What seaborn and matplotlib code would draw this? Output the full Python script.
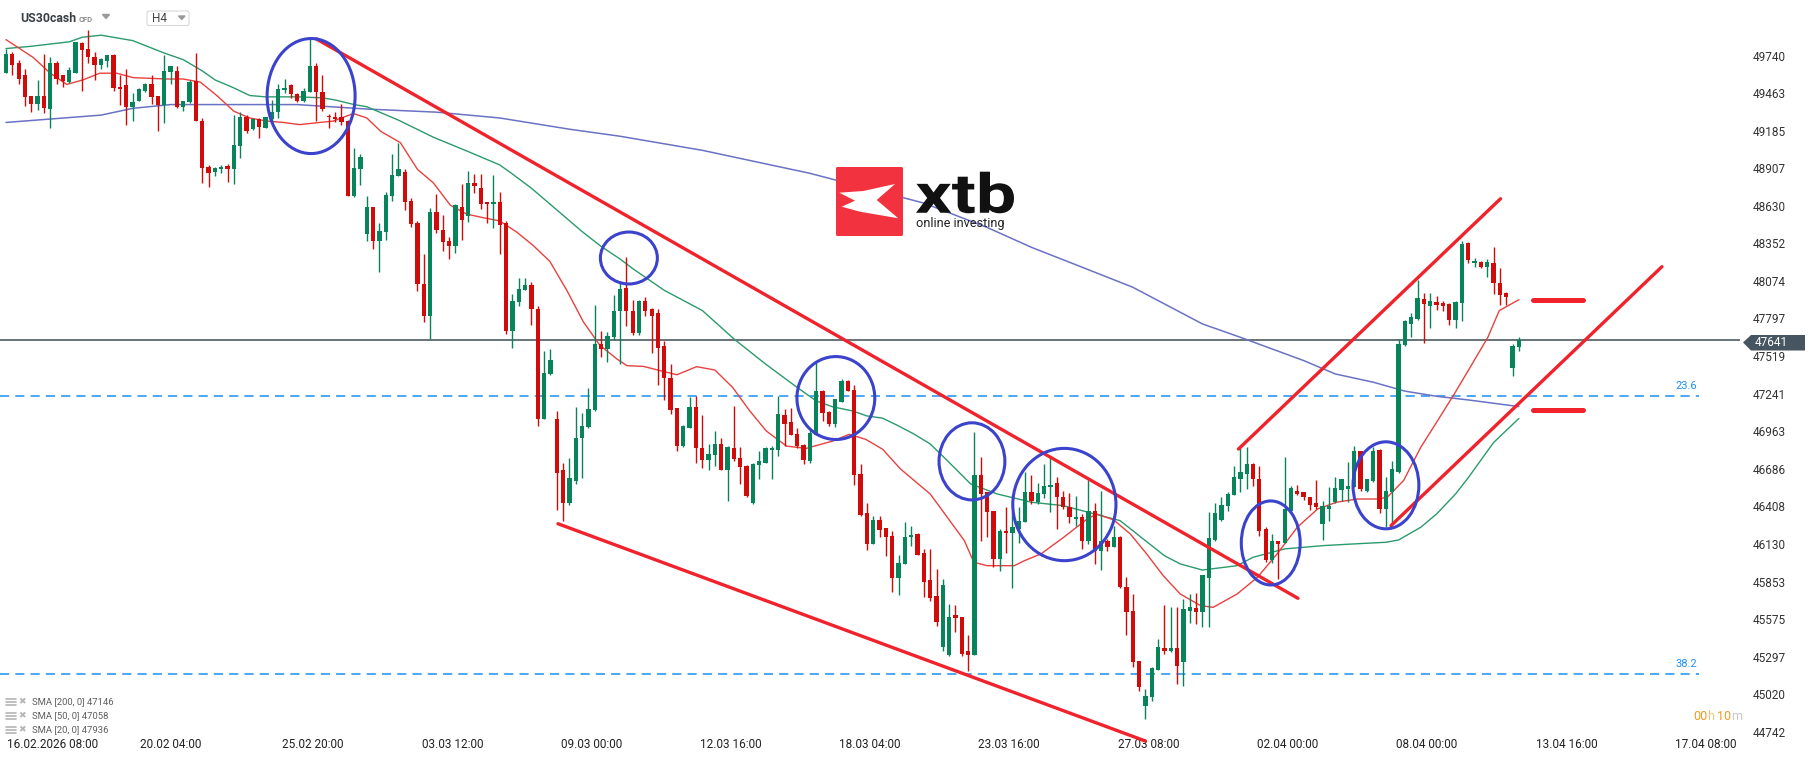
import numpy as np
import pandas as pd
import seaborn as sns
import matplotlib.pyplot as plt
from matplotlib.patches import Ellipse, Polygon, FancyBboxPatch
from matplotlib.textpath import TextPath
from matplotlib.font_manager import FontProperties
from matplotlib.patches import PathPatch
from matplotlib.transforms import Affine2D

# US30cash H4 candles (one entry per candle)
opens = [49610, 49749, 49687, 49594, 49445, 49385, 49445, 49346, 49686, 49594,
         49544, 49610, 49835, 49792, 49733, 49667, 49700, 49743, 49511, 49521,
         49362, 49405, 49478, 49527, 49441, 49375, 49620, 49627, 49362, 49395,
         49551, 49256, 48915, 48882, 48905, 48922, 48899, 49071, 49289, 49196,
         49269, 49206, 49269, 49322, 49488, 49521, 49455, 49405, 49468, 49666,
         49468, 49296, 49286, 49289, 49256, 48700, 48899, 48425, 48621, 48369,
         48435, 48700, 48849, 48882, 48667, 48501, 48055, 47813, 48581, 48449,
         48369, 48330, 48621, 48551, 48799, 48760, 48657, 48641, 48661, 48502,
         47701, 47916, 48005, 48048, 47866, 47055, 47386, 47055, 46674, 46433,
         46599, 46913, 46996, 47121, 47608, 47568, 47658, 47849, 48024, 47856,
         47688, 47926, 47864, 47836, 47596, 47359, 47134, 46854, 46990, 47144,
         46842, 46748, 46787, 46872, 46674, 46842, 46767, 46706, 46434, 46711,
         46731, 46825, 46825, 47084, 47035, 46946, 46862, 46743, 46936, 47258,
         47109, 47020, 47183, 47332, 47267, 46649, 46360, 46132, 46310, 46248,
         46186, 45882, 45983, 46180, 46205, 46062, 45864, 45749, 45371, 45310,
         45608, 45593, 45337, 45313, 46643, 46512, 46377, 46020, 46229, 46212,
         46241, 46291, 46517, 46439, 46500, 46554, 46579, 46480, 46402, 46315,
         46333, 46155, 46377, 46081, 46155, 46111, 46185, 45815, 45638, 45263,
         44936, 45002, 45199, 45362, 45337, 45362, 45256, 45638, 45657, 45626,
         45879, 46160, 46308, 46414, 46495, 46611, 46648, 46722, 46611, 46241,
         46012, 46150, 46136, 46372, 46525, 46512, 46480, 46431, 46278, 46389,
         46439, 46530, 46537, 46554, 46816, 46525, 46599, 46825, 46389, 46512,
         46660, 47604, 47757, 47794, 47942, 47892, 47917, 47910, 47905, 47786,
         47912, 48353, 48205, 48218, 48181, 48205, 48057, 47984, 47432, 47589]
highs = [49792, 49766, 49706, 49643, 49445, 49561, 49753, 49726, 49700, 49600,
         49653, 49842, 49842, 49931, 49769, 49720, 49743, 49753, 49600, 49640,
         49461, 49501, 49534, 49594, 49441, 49743, 49666, 49666, 49408, 49561,
         49759, 49279, 48932, 48915, 48932, 48939, 49303, 49322, 49303, 49279,
         49279, 49289, 49412, 49527, 49567, 49527, 49461, 49501, 49875, 49683,
         49594, 49312, 49322, 49379, 49263, 49058, 49015, 48700, 48621, 48501,
         48733, 49015, 49097, 48899, 48684, 48518, 48270, 48617, 48717, 48561,
         48396, 48641, 48789, 48889, 48865, 48865, 48657, 48859, 48733, 48518,
         47979, 48098, 48098, 48065, 47889, 47558, 47575, 47111, 46731, 46764,
         47145, 47095, 47284, 47896, 47707, 47697, 47972, 48071, 48252, 47930,
         47930, 47955, 47876, 47864, 47634, 47460, 47139, 47010, 47220, 47225,
         47084, 46867, 46966, 46911, 46854, 47151, 46847, 46711, 46731, 46817,
         46847, 46854, 47225, 47131, 47139, 46990, 46867, 46990, 47485, 47267,
         47114, 47201, 47349, 47342, 47307, 46723, 46434, 46335, 46335, 46248,
         46223, 46050, 46291, 46266, 46210, 46094, 46094, 45946, 45870, 45690,
         45682, 45593, 45460, 46956, 46771, 46512, 46377, 46241, 46402, 46365,
         46402, 46660, 46643, 46579, 46722, 46784, 46628, 46525, 46505, 46488,
         46352, 46604, 46431, 46520, 46168, 46266, 46192, 45884, 45761, 45268,
         45059, 45219, 45428, 45682, 45667, 45667, 45724, 45761, 45766, 45904,
         46365, 46431, 46480, 46512, 46710, 46850, 46845, 46727, 46710, 46259,
         46204, 46155, 46776, 46562, 46569, 46512, 46480, 46604, 46446, 46554,
         46628, 46611, 46734, 46857, 46816, 46611, 46850, 46833, 46628, 46742,
         47646, 47786, 47836, 48082, 47984, 47984, 47966, 47924, 47910, 47924,
         48368, 48360, 48242, 48220, 48237, 48328, 48168, 47996, 47609, 47658]
lows = [49610, 49594, 49527, 49369, 49323, 49336, 49313, 49203, 49527, 49511,
        49534, 49610, 49478, 49683, 49561, 49643, 49653, 49478, 49375, 49230,
        49256, 49405, 49471, 49379, 49183, 49243, 49527, 49352, 49329, 49389,
        49256, 48800, 48767, 48849, 48872, 48806, 48793, 48982, 49170, 49187,
        49130, 49203, 49230, 49279, 49461, 49428, 49395, 49395, 49468, 49256,
        49329, 49203, 49246, 49230, 48700, 48693, 48783, 48369, 48310, 48138,
        48379, 48667, 48849, 48601, 48475, 47999, 47774, 47648, 48429, 48297,
        48237, 48280, 48376, 48509, 48723, 48608, 48501, 48469, 48277, 47681,
        47582, 47890, 48005, 47747, 47006, 47055, 47376, 46384, 46301, 46417,
        46576, 46615, 46986, 47115, 47509, 47476, 47641, 47459, 47745, 47678,
        47678, 47819, 47542, 47307, 47196, 47094, 46817, 46845, 46990, 46726,
        46693, 46674, 46706, 46674, 46446, 46743, 46577, 46480, 46427, 46614,
        46731, 46607, 46780, 46854, 46933, 46842, 46718, 46731, 46933, 47040,
        47003, 46995, 47183, 47258, 46565, 46335, 46087, 46132, 46181, 46045,
        45778, 45753, 45983, 46118, 46052, 45736, 45707, 45527, 45340, 45300,
        45478, 45305, 45189, 45313, 46155, 46180, 45963, 45929, 46062, 45805,
        46136, 46291, 46426, 46426, 46471, 46365, 46241, 46389, 46283, 46266,
        46094, 46131, 45983, 45938, 46081, 46106, 45805, 45460, 45224, 45046,
        44837, 44973, 45199, 45318, 45330, 45096, 45083, 45544, 45539, 45515,
        45515, 46155, 46303, 46377, 46490, 46513, 46537, 46562, 46192, 45995,
        45988, 45872, 46136, 46365, 46495, 46456, 46382, 46389, 46160, 46303,
        46431, 46446, 46439, 46549, 46520, 46512, 46586, 46357, 46254, 46278,
        46653, 47597, 47663, 47786, 47614, 47727, 47860, 47855, 47752, 47727,
        47781, 48205, 48181, 48171, 48107, 47979, 47897, 47897, 47370, 47560]
closes = [49749, 49667, 49567, 49435, 49385, 49445, 49352, 49686, 49567, 49551,
          49633, 49842, 49783, 49726, 49670, 49713, 49743, 49501, 49494, 49362,
          49395, 49494, 49527, 49435, 49375, 49627, 49660, 49362, 49402, 49544,
          49256, 48909, 48872, 48909, 48919, 48899, 49081, 49289, 49180, 49273,
          49213, 49289, 49322, 49494, 49504, 49455, 49405, 49478, 49666, 49468,
          49346, 49283, 49273, 49246, 48700, 48909, 48991, 48621, 48369, 48442,
          48710, 48859, 48905, 48661, 48492, 48055, 47813, 48581, 48449, 48359,
          48330, 48634, 48525, 48799, 48773, 48641, 48641, 48661, 48485, 47701,
          47923, 48012, 48048, 47866, 47055, 47393, 47492, 46658, 46433, 46615,
          46913, 47006, 47128, 47608, 47568, 47668, 47856, 48012, 47849, 47688,
          47926, 47856, 47819, 47579, 47356, 47119, 46854, 47003, 47144, 46837,
          46748, 46797, 46872, 46674, 46847, 46760, 46698, 46488, 46723, 46743,
          46842, 46842, 47094, 47020, 46933, 46854, 46750, 46953, 47258, 47102,
          47020, 47201, 47332, 47262, 46639, 46347, 46132, 46310, 46236, 46179,
          45882, 45988, 46185, 46200, 46052, 45847, 45731, 45552, 45827, 45593,
          45584, 45318, 45313, 46643, 46500, 46365, 46020, 46229, 46212, 46259,
          46303, 46517, 46451, 46505, 46562, 46569, 46480, 46402, 46333, 46333,
          46155, 46377, 46081, 46150, 46111, 46180, 45810, 45625, 45256, 45076,
          45010, 45214, 45367, 45337, 45362, 45231, 45650, 45662, 45625, 45904,
          46175, 46357, 46421, 46500, 46623, 46660, 46722, 46611, 46224, 46012,
          46150, 46131, 46389, 46545, 46500, 46475, 46421, 46406, 46414, 46414,
          46545, 46611, 46562, 46820, 46537, 46611, 46816, 46389, 46525, 46685,
          47609, 47777, 47811, 47949, 47905, 47924, 47900, 47892, 47786, 47917,
          48348, 48230, 48225, 48176, 48213, 48057, 47971, 47959, 47597, 47641]

# moving averages, sampled along the drawn lines (candle index, value)
sma200_x = [0, 15, 20, 26, 46, 57, 68, 78, 89, 97, 110, 127, 145, 155, 162,
            170, 178, 186, 189, 195, 200, 205, 210, 216, 221, 226, 231, 239]
sma200_y = [49246, 49300, 49350, 49378, 49378, 49345, 49322, 49279, 49196, 49144,
            49040, 48870, 48650, 48470, 48323, 48176, 48028, 47831, 47757, 47658,
            47572, 47486, 47387, 47326, 47260, 47222, 47195, 47146]
sma50_x = [0, 4, 10, 12, 15, 20, 25, 28, 31, 33, 36, 38.5, 41, 46, 50, 52, 55, 57,
           62, 67.5, 73, 78, 80, 83, 86, 89, 91, 94, 97, 99, 104, 110, 115, 120,
           125, 128, 130.6, 133.7, 136, 138.5, 141, 143.4, 146, 148.7, 152.4,
           156.6, 162, 167, 172, 176, 180, 183, 185.5, 189, 194.5, 197, 202, 208,
           213, 218, 220, 223.5, 226, 229, 231, 235, 239]
sma50_y = [49792, 49809, 49842, 49875, 49891, 49851, 49759, 49710, 49627, 49561,
           49501, 49445, 49435, 49435, 49428, 49412, 49378, 49362, 49263, 49137,
           49031, 48932, 48865, 48760, 48640, 48520, 48440, 48330, 48237, 48166,
           48005, 47856, 47646, 47460, 47287, 47188, 47144, 47114, 47077, 47060,
           47003, 46944, 46870, 46747, 46574, 46500, 46439, 46414, 46352, 46303,
           46155, 46044, 45983, 45938, 45970, 46032, 46094, 46118, 46131, 46143,
           46160, 46254, 46352, 46500, 46620, 46880, 47058]
sma20_x = [0, 4.3, 7, 9.6, 12.2, 14.8, 17.5, 20.1, 25.4, 28, 30.7, 33.3, 36, 38.5,
           41.2, 43.8, 46.4, 49.6, 51.7, 54.9, 57, 59.2, 62.3, 65, 67.5, 70.2,
           72.8, 75.5, 78, 80.7, 83.3, 85.9, 88.6, 91.2, 93.8, 96.5, 98.1, 100.7,
           103.4, 106, 109.1, 112, 114.8, 117.5, 120.1, 123.3, 126.4, 130.6, 133.2,
           135.8, 138.5, 141.3, 146, 148.7, 151.4, 152.9, 155, 159.3, 160.9, 163.5,
           167.1, 170.8, 172.3, 175, 177.6, 180.2, 182.8, 185.5, 188.7, 190.7,
           194.5, 197.7, 200.8, 204, 207.2, 210.2, 213.5, 216.6, 218.2, 220.8,
           223.5, 226, 228.8, 231.3, 234.1, 235.9, 239]
sma20_y = [49858, 49726, 49610, 49527, 49561, 49610, 49610, 49577, 49567, 49567,
           49544, 49445, 49329, 49279, 49256, 49246, 49230, 49246, 49256, 49312,
           49279, 49180, 49097, 48899, 48800, 48634, 48568, 48541, 48518, 48435,
           48336, 48220, 48005, 47773, 47600, 47498, 47448, 47443, 47411, 47381,
           47441, 47416, 47287, 47114, 46966, 46854, 46837, 46891, 46941, 46904,
           46830, 46685, 46500, 46328, 46155, 45995, 45970, 45970, 46007, 46057,
           46180, 46315, 46352, 46308, 46205, 46057, 45897, 45761, 45675, 45662,
           45761, 45884, 46057, 46254, 46389, 46439, 46463, 46463, 46475, 46600,
           46845, 47030, 47239, 47436, 47658, 47855, 47936]

price_ticks = [49740, 49463, 49185, 48907, 48630, 48352, 48074, 47797, 47519, 47241,
               46963, 46686, 46408, 46130, 45853, 45575, 45297, 45020, 44742]
date_labels = ["20.02 04:00", "25.02 20:00", "03.03 12:00", "09.03 00:00",
               "12.03 16:00", "18.03 04:00", "23.03 16:00", "27.03 08:00",
               "02.04 00:00", "08.04 00:00", "13.04 16:00", "17.04 08:00"]
date_pos = [26, 48.5, 70.5, 92.5, 114.5, 136.5, 158.5, 180.5, 202.5, 224.5, 246.5, 268.5]
first_label = "16.02.2026 08:00"
last_price = 47641
fib_levels = [47224, 45169]
fib_names = ["23.6", "38.2"]
sma_legend = ["SMA [200, 0] 47146", "SMA [50, 0] 47058", "SMA [20, 0] 47936"]

df = pd.DataFrame({"open": opens, "high": highs, "low": lows, "close": closes})
df["i"] = np.arange(len(df))
df["up"] = df["close"] >= df["open"]

GREEN = "#07845a"
RED = "#d10a0a"
TREND = "#f0222c"
CIRCLE = "#3b42cc"
W, H = 1816, 761

sns.set_style("white")
plt.rcParams["font.family"] = ["Roboto", "DejaVu Sans"]

fig = plt.figure(figsize=(W / 100, H / 100), dpi=100)
ax = fig.add_axes([0, 0, 1740 / W, 1])

# pixel <-> data scale of the reference
def px_to_i(x):
    return (x - 6) / 6.33

def py_to_p(y):
    return 49740 - (y - 55.6) * 7.391

ax.set_xlim(px_to_i(0), px_to_i(1740))
ax.set_ylim(py_to_p(H), py_to_p(0))

# moving averages
sns.lineplot(x=sma200_x, y=sma200_y, ax=ax, color="#6a72c4", lw=1.1, zorder=2)
sns.lineplot(x=sma50_x, y=sma50_y, ax=ax, color="#2b9a6c", lw=1.0, zorder=2)
sns.lineplot(x=sma20_x, y=sma20_y, ax=ax, color="#e8413f", lw=1.0, zorder=2)

# candles
cols = np.where(df["up"], GREEN, RED)
ax.vlines(df["i"], df["low"], df["high"], colors=cols, lw=1, zorder=3)
body_lo = np.minimum(df["open"], df["close"])
body_h = np.maximum((df["close"] - df["open"]).abs(), 9)
ax.bar(df["i"], body_h, bottom=body_lo, width=0.68, color=cols, lw=0, zorder=4)

# price line and fibonacci levels
ax.axhline(last_price, color="#3f4c55", lw=1.1, zorder=1)
for lvl, name in zip(fib_levels, fib_names):
    ax.hlines(lvl, px_to_i(0), px_to_i(1699), colors="#1e90f0", lw=1.1,
              linestyles=(0, (6, 4)), zorder=1)
    ax.text(px_to_i(1697), lvl + 40, name, color="#1e90f0", fontsize=8,
            ha="right", va="bottom")

# trend lines
trend = [((49.0, 49864), (204.1, 45729)),
         ((87.2, 46280), (180.0, 44674)),
         ((194.7, 46832), (236.1, 48682)),
         ((218.8, 46266), (261.6, 48180))]
for (x0, y0), (x1, y1) in trend:
    ax.plot([x0, x1], [y0, y1], color=TREND, lw=2.4, solid_capstyle="round", zorder=6)
for y in [47931, 47121]:
    ax.plot([241.3, 249.2], [y, y], color=TREND, lw=3.6, solid_capstyle="round", zorder=6)

# highlighted spots
circles = [(48.2, 49441, 13.9, 850), (98.4, 48244, 9.0, 384), (131.1, 47209, 12.3, 613),
           (152.6, 46741, 10.4, 570), (167.2, 46422, 16.3, 830), (199.8, 46138, 9.3, 621),
           (218.0, 46564, 10.4, 643)]
for cx, cy, w, h in circles:
    ax.add_patch(Ellipse((cx, cy), w, h, fill=False, ec=CIRCLE, lw=2.2, zorder=7))

# axes look
for s in ax.spines.values():
    s.set_visible(False)
ax.set_xticks([])
ax.yaxis.tick_right()
ax.set_yticks(price_ticks)
ax.set_yticklabels([str(p) for p in price_ticks])
ax.tick_params(axis="y", length=0, pad=9, labelsize=8.5, labelcolor="#333333")
ax.set_xlabel("")
ax.set_ylabel("")

y_lab = py_to_p(745)
ax.text(px_to_i(6.7), y_lab, first_label, fontsize=8.5, color="#222222",
        ha="left", va="center", clip_on=False)
for pos, lab in zip(date_pos, date_labels):
    ax.text(pos, y_lab, lab, fontsize=8.5, color="#222222", ha="center", va="center")

# overlay in pixel space
ov = fig.add_axes([0, 0, 1, 1], facecolor="none")
ov.set_xlim(0, W)
ov.set_ylim(H, 0)
ov.axis("off")

# header
ov.text(20.5, 18.5, "US30cash", fontsize=8.8, fontweight="bold", color="#3a3f44", va="center")
ov.text(79, 19, "CFD", fontsize=5.5, fontweight="bold", color="#8a8a8a", va="center")
ov.add_patch(Polygon([(102.5, 14.5), (109.5, 14.5), (106, 18.5)], color="#9a9a9a"))
ov.add_patch(FancyBboxPatch((147, 11), 42, 14.5, boxstyle="round,pad=0,rounding_size=2",
                            fc="white", ec="#d8d8d8", lw=0.8))
ov.text(152, 18.5, "H4", fontsize=8.5, color="#444444", va="center")
ov.add_patch(Polygon([(178.5, 16), (185, 16), (181.75, 19.5)], color="#9a9a9a"))

# xtb logo
ov.add_patch(FancyBboxPatch((836, 167), 67, 69, boxstyle="round,pad=0,rounding_size=1.5",
                            fc="#f2323f", ec="none", zorder=5))
ov.add_patch(Polygon([(839.3, 192.7), (863.3, 191), (895, 184), (876.7, 200),
                      (898.3, 218.3), (860, 211.7), (841.7, 206.7), (855, 200.7)],
                     fc="white", ec="none", zorder=6))
tp = TextPath((0, 0), "xtb", size=100, prop=FontProperties(family="Roboto", weight="bold"))
bb = tp.get_extents()
sx = (1014 - 916) / bb.width
sy = (213.3 - 171.7) / bb.height
tr = Affine2D().translate(-bb.x0, -bb.y0).scale(sx, -sy).translate(916, 213.3)
ov.add_patch(PathPatch(tr.transform_path(tp), fc="#111111", ec="none", zorder=6))
ov.text(916, 224, "online investing", fontsize=9.2, color="#222222", va="center", zorder=6)

# last price tag
ov.add_patch(Polygon([(1743, 342.5), (1751, 335), (1805, 335), (1805, 350.5), (1751, 350.5)],
                     fc="#46555f", ec="none", zorder=8))
ov.text(1755, 343, str(last_price), fontsize=8.5, color="white", va="center", zorder=9)

# countdown
ov.text(1693, 716, "00", fontsize=9, color="#f39a1e", va="center")
ov.text(1707.5, 716, "h", fontsize=9, color="#f6c27a", va="center")
ov.text(1717, 716, "10", fontsize=9, color="#f39a1e", va="center")
ov.text(1731, 716, "m", fontsize=9, color="#c8c8c8", va="center")

# indicator legend
for k, lab in enumerate(sma_legend):
    yy = 701.5 + k * 14
    for dy in (-3, 0, 3):
        ov.plot([6, 15.5], [yy + dy, yy + dy], color="#b5b5b5", lw=1.2)
    ov.text(18.5, yy, "\u2716", fontsize=6.5, color="#b5b5b5", va="center",
            family="DejaVu Sans")
    ov.text(31.5, yy, lab, fontsize=6.8, color="#5f5f5f", va="center")

fig.savefig("out.png", dpi=100)
